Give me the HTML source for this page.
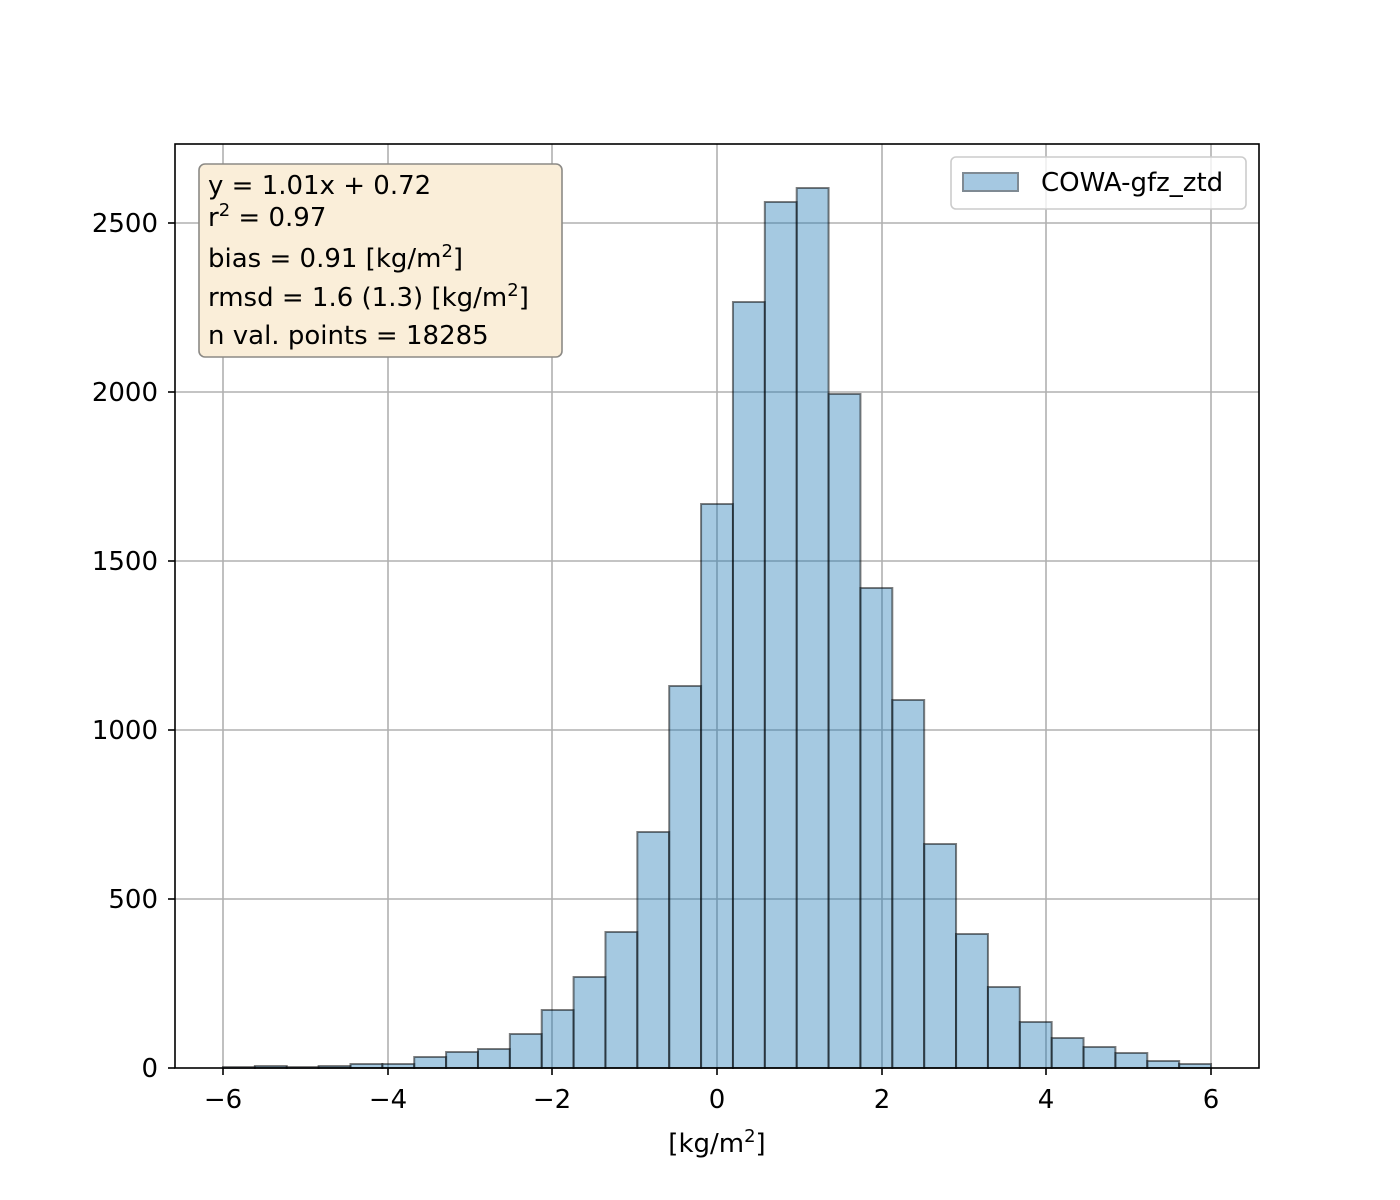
<!DOCTYPE html><html><head><style>body{margin:0;background:#fff}svg{display:block}text{font-family:"DejaVu Sans","Liberation Sans",sans-serif;fill:#000}</style></head><body>
<svg width="1400" height="1200" xmlns="http://www.w3.org/2000/svg">
<rect width="1400" height="1200" fill="#fff"/>
<g stroke="#b0b0b0" stroke-width="1.6">
<line x1="223" y1="144" x2="223" y2="1068"/><line x1="388" y1="144" x2="388" y2="1068"/><line x1="552" y1="144" x2="552" y2="1068"/><line x1="717" y1="144" x2="717" y2="1068"/><line x1="882" y1="144" x2="882" y2="1068"/><line x1="1046" y1="144" x2="1046" y2="1068"/><line x1="1211" y1="144" x2="1211" y2="1068"/>
<line x1="175" y1="899" x2="1259" y2="899"/><line x1="175" y1="730" x2="1259" y2="730"/><line x1="175" y1="561" x2="1259" y2="561"/><line x1="175" y1="392" x2="1259" y2="392"/><line x1="175" y1="223" x2="1259" y2="223"/>
</g>
<g fill="#1f77b4" fill-opacity="0.4" stroke="#000" stroke-opacity="0.5" stroke-width="2">
<rect x="223.00" y="1067" width="31.87" height="1"/>
<rect x="254.87" y="1066" width="31.87" height="2"/>
<rect x="286.74" y="1067" width="31.87" height="1"/>
<rect x="318.62" y="1066" width="31.87" height="2"/>
<rect x="350.49" y="1064" width="31.87" height="4"/>
<rect x="382.36" y="1064" width="31.87" height="4"/>
<rect x="414.23" y="1057" width="31.87" height="11"/>
<rect x="446.10" y="1052" width="31.87" height="16"/>
<rect x="477.98" y="1049" width="31.87" height="19"/>
<rect x="509.85" y="1034" width="31.87" height="34"/>
<rect x="541.72" y="1010" width="31.87" height="58"/>
<rect x="573.59" y="977" width="31.87" height="91"/>
<rect x="605.46" y="932" width="31.87" height="136"/>
<rect x="637.34" y="832" width="31.87" height="236"/>
<rect x="669.21" y="686" width="31.87" height="382"/>
<rect x="701.08" y="504" width="31.87" height="564"/>
<rect x="732.95" y="302" width="31.87" height="766"/>
<rect x="764.82" y="202" width="31.87" height="866"/>
<rect x="796.70" y="188" width="31.87" height="880"/>
<rect x="828.57" y="394" width="31.87" height="674"/>
<rect x="860.44" y="588" width="31.87" height="480"/>
<rect x="892.31" y="700" width="31.87" height="368"/>
<rect x="924.18" y="844" width="31.87" height="224"/>
<rect x="956.06" y="934" width="31.87" height="134"/>
<rect x="987.93" y="987" width="31.87" height="81"/>
<rect x="1019.80" y="1022" width="31.87" height="46"/>
<rect x="1051.67" y="1038" width="31.87" height="30"/>
<rect x="1083.54" y="1047" width="31.87" height="21"/>
<rect x="1115.42" y="1053" width="31.87" height="15"/>
<rect x="1147.29" y="1061" width="31.87" height="7"/>
<rect x="1179.16" y="1064" width="31.87" height="4"/>
</g>
<rect x="175" y="144" width="1084" height="924" fill="none" stroke="#000" stroke-width="1.6"/>
<g stroke="#000" stroke-width="1.6">
<line x1="223" y1="1068" x2="223" y2="1075"/><line x1="388" y1="1068" x2="388" y2="1075"/><line x1="552" y1="1068" x2="552" y2="1075"/><line x1="717" y1="1068" x2="717" y2="1075"/><line x1="882" y1="1068" x2="882" y2="1075"/><line x1="1046" y1="1068" x2="1046" y2="1075"/><line x1="1211" y1="1068" x2="1211" y2="1075"/>
<line x1="168" y1="1068" x2="175" y2="1068"/><line x1="168" y1="899" x2="175" y2="899"/><line x1="168" y1="730" x2="175" y2="730"/><line x1="168" y1="561" x2="175" y2="561"/><line x1="168" y1="392" x2="175" y2="392"/><line x1="168" y1="223" x2="175" y2="223"/>
</g>
<g font-size="26" text-anchor="middle">
<text x="223" y="1108">−6</text><text x="388" y="1108">−4</text><text x="552" y="1108">−2</text><text x="717" y="1108">0</text><text x="882" y="1108">2</text><text x="1046" y="1108">4</text><text x="1211" y="1108">6</text>
<text x="717" y="1152">[kg/m<tspan font-size="18" dy="-10">2</tspan><tspan dy="10">]</tspan></text>
</g>
<g font-size="26" text-anchor="end">
<text x="158" y="1077">0</text><text x="158" y="908">500</text><text x="158" y="739">1000</text><text x="158" y="570">1500</text><text x="158" y="401">2000</text><text x="158" y="232">2500</text>
</g>
<rect x="199" y="164" width="363" height="193" rx="6" fill="#faeed9" stroke="#8c8a86" stroke-width="1.6"/>
<g font-size="26">
<text x="208" y="194">y = 1.01x + 0.72</text>
<text x="208" y="226">r<tspan font-size="18" dy="-10">2</tspan><tspan dy="10"> = 0.97</tspan></text>
<text x="208" y="267">bias = 0.91 [kg/m<tspan font-size="18" dy="-10">2</tspan><tspan dy="10">]</tspan></text>
<text x="208" y="306">rmsd = 1.6 (1.3) [kg/m<tspan font-size="18" dy="-10">2</tspan><tspan dy="10">]</tspan></text>
<text x="208" y="344">n val. points = 18285</text>
</g>
<rect x="951" y="157" width="295" height="52" rx="5" fill="#fff" fill-opacity="0.8" stroke="#ccc" stroke-width="1.6"/>
<rect x="963" y="173" width="55" height="18" fill="#a5c8e1" stroke="#7f8a93" stroke-width="2"/>
<text x="1041" y="191" font-size="26">COWA-gfz_ztd</text>
</svg></body></html>
